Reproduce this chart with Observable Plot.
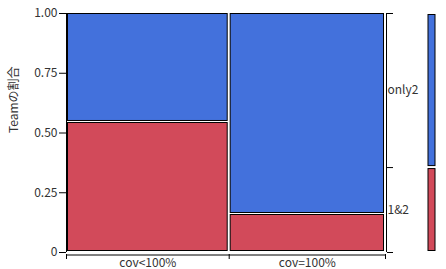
<!DOCTYPE html>
<html><head><meta charset="utf-8">
<script src="https://cdn.jsdelivr.net/npm/d3@7"></script>
<script src="https://cdn.jsdelivr.net/npm/@observablehq/plot@0.6"></script>
<style>body{margin:0;background:#fff} svg{display:block}</style>
</head><body><div id="chart"></div>
<script>
const categories = ["cov<100%", "cov=100%"];
const categoryShare = [0.51, 0.49];
const teams = ["1&2", "only2"];
const teamShareByCategory = [[0.544, 0.456], [0.159, 0.841]];
const teamColors = ["#D24A5A", "#4371DC"];
const yTicks = [0, 0.25, 0.5, 0.75, 1];
const yTickLabels = ["0", "0.25", "0.50", "0.75", "1.00"];
const yLabel = "Teamの割合";

// mosaic tiles
const tiles = [];
let cx = 0;
categories.forEach((c, i) => {
  let cy = 0;
  teams.forEach((t, j) => {
    const s = teamShareByCategory[i][j];
    tiles.push({category: c, team: t, x1: cx, x2: cx + categoryShare[i], y1: cy, y2: cy + s});
    cy += s;
  });
  cx += categoryShare[i];
});
const boundaries = [0];
categoryShare.reduce((a, s) => { boundaries.push(a + s); return a + s; }, 0);
const catLabels = categories.map((c, i) => ({category: c, x: (boundaries[i] + boundaries[i + 1]) / 2}));

// marginal distribution
const marginal = [];
let my = 0;
teams.forEach((t, j) => {
  const s = d3.sum(categories, (c, i) => categoryShare[i] * teamShareByCategory[i][j]);
  marginal.push({team: t, y1: my, y2: my + s, mid: my + s / 2});
  my += s;
});
const marginalTicks = [0, ...marginal.map(d => d.y2)];

const font = "'Noto Sans CJK JP', 'Noto Sans', sans-serif";
const blank = () => "";
const chart = Plot.plot({
  width: 446, height: 269,
  marginLeft: 66, marginRight: 61, marginTop: 13, marginBottom: 17,
  style: {fontFamily: font, fontSize: "12px", color: "#333", background: "#fff"},
  x: {domain: [0, 1], axis: null},
  y: {domain: [0, 1], axis: null},
  color: {domain: teams, range: teamColors},
  marks: [
    Plot.rect(tiles, {x1: "x1", x2: "x2", y1: "y1", y2: "y2", fill: "team", stroke: "#000", strokeWidth: 1,
      insetLeft: 1.5, insetRight: 1.5, insetTop: 0.5, insetBottom: 1.5}),
    // left axis
    Plot.ruleX([0], {y1: 0, y2: 1, stroke: "#000"}),
    Plot.axisY({ticks: yTicks, tickFormat: (d, i) => yTickLabels[i], tickSize: 7, tickPadding: 2, stroke: "#000", fill: "#333", fontSize: 12, label: null}),
    Plot.text([yLabel], {frameAnchor: "left", rotate: -90, dx: -52, fill: "#333", fontSize: 12}),
    // bottom axis
    Plot.ruleY([0], {x1: 0, x2: 1, dy: 2.5, stroke: "#000"}),
    Plot.axisX({ticks: boundaries, tickFormat: blank, tickSize: 5, dy: 2, stroke: "#000", label: null}),
    Plot.text(catLabels, {x: "x", y: 0, text: "category", dy: 10.5, fill: "#333", fontSize: 12}),
    // right axis
    Plot.ruleX([1], {y1: 0, y2: 1, dx: 1, stroke: "#000"}),
    Plot.axisY({anchor: "right", ticks: marginalTicks, tickFormat: blank, tickSize: 6, dx: 1, stroke: "#000", label: null}),
    Plot.text(marginal, {x: 1, y: "mid", text: "team", textAnchor: "start", dx: 2, fill: "#333", fontSize: 12}),
    // marginal bar
    Plot.rect(marginal, {x1: 1, x2: 1, y1: "y1", y2: "y2", fill: "team", stroke: "#000", strokeWidth: 1,
      insetLeft: 0, insetRight: -7, insetTop: 1.5, insetBottom: 1.5, dx: 43})
  ]
});
document.getElementById("chart").append(chart);
</script>
</body></html>
